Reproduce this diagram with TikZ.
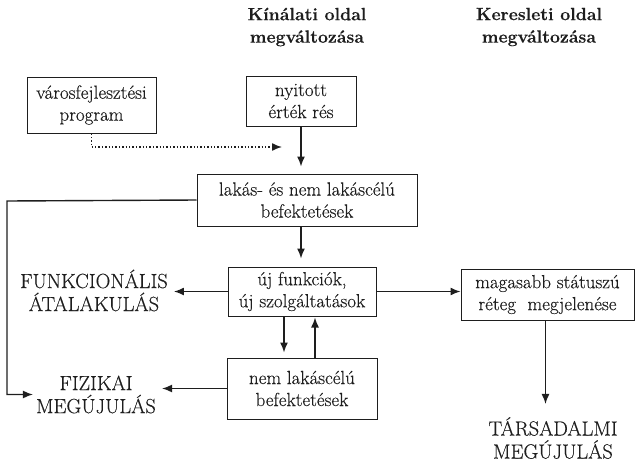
\documentclass[tikz,border=0pt]{standalone}
\usepackage{fontspec}
\setmainfont{Latin Modern Roman}[UprightFeatures={FakeBold=0.3}, BoldFeatures={FakeBold=0.4}]
\usepackage{xcolor}
\usetikzlibrary{arrows.meta}

\definecolor{ink}{HTML}{1e1e1e}

\begin{document}
\begin{tikzpicture}[x=1pt, y=-1pt,
        doboz/.style={rectangle, draw=ink, line width=1pt, align=center, inner sep=0pt,
            font=\fontsize{19}{22}\selectfont, text=ink},
        felirat/.style={align=center, inner sep=0pt, font=\fontsize{20.5}{23}\selectfont, text=ink},
        fejlec/.style={align=center, inner sep=0pt, font=\fontsize{17.7}{22.5}\selectfont\bfseries, text=ink},
        nyil/.style={-{Latex[length=10pt, width=8pt]}, line width=1.4pt, draw=ink}]
        \useasboundingbox (0,0) rectangle (635,464);

        % column headings
        \node[fejlec] (kin) at (307, 27) {K\'in\'alati oldal\\megv\'altoz\'asa};
        \node[fejlec] (ker) at (539, 27) {Keresleti oldal\\megv\'altoz\'asa};

        % boxes
        \node[doboz, minimum width=129, minimum height=56] (varos) at (91.5, 105) {v\'arosfejleszt\'esi\\program};
        \node[doboz, minimum width=110, minimum height=50] (nyit) at (301, 101) {nyitott\\\'ert\'ek r\'es};
        \node[doboz, minimum width=220, minimum height=52] (lakas) at (307, 200) {lak\'as- \'es nem lak\'ascél\'u\\befektet\'esek};
        \node[doboz, minimum width=148, minimum height=49] (uj) at (302, 291.5) {\'uj funkci\'ok,\\\'uj szolg\'altat\'asok};
        \node[doboz, minimum width=150, minimum height=61] (nem) at (302, 388.5) {nem lak\'ascél\'u\\befektet\'esek};
        \node[doboz, minimum width=173, minimum height=51] (magas) at (547.5, 294.5) {magasabb st\'atusz\'u\\r\'eteg\ \ megjelen\'ese};

        % outcomes
        \node[felirat] (funk) at (94, 290.5) {FUNKCION\'ALIS\\\'ATALAKUL\'AS};
        \node[felirat] (fiz) at (96, 394.5) {FIZIKAI\\MEG\'UJUL\'AS};
        \node[felirat] (tars) at (553, 438) {T\'ARSADALMI\\MEG\'UJUL\'AS};

        % connectors
        \coordinate (pont) at (282, 147);
        \coordinate (kanyar) at (7, 201);
        \draw[nyil, dotted] (varos.south) |- (pont);
        \draw[nyil, shorten >=7] (nyit.south) -- (nyit.south |- lakas.north);
        \draw[nyil, shorten >=8] (lakas.south -| nyit.south) -- (uj.north -| nyit.south);
        \draw[nyil, shorten >=3] (lakas.west) -- (kanyar) |- (fiz.west);
        \draw[nyil, shorten >=6] (uj.west) -- (uj.west -| funk.east);
        \draw[nyil] (uj.east) -- (uj.east -| magas.west);
        \draw[nyil, shorten >=5] ([xshift=-18]uj.south) -- ([xshift=-18]nem.north);
        \draw[nyil, shorten >=1] ([xshift=13]nem.north) -- ([xshift=13]uj.south);
        \draw[nyil, shorten >=6] (nem.west) -- (nem.west -| fiz.east);
        \draw[nyil, shorten >=13] ([xshift=-2]magas.south) -- ([xshift=-2]magas.south |- tars.north);
\end{tikzpicture}
\end{document}
